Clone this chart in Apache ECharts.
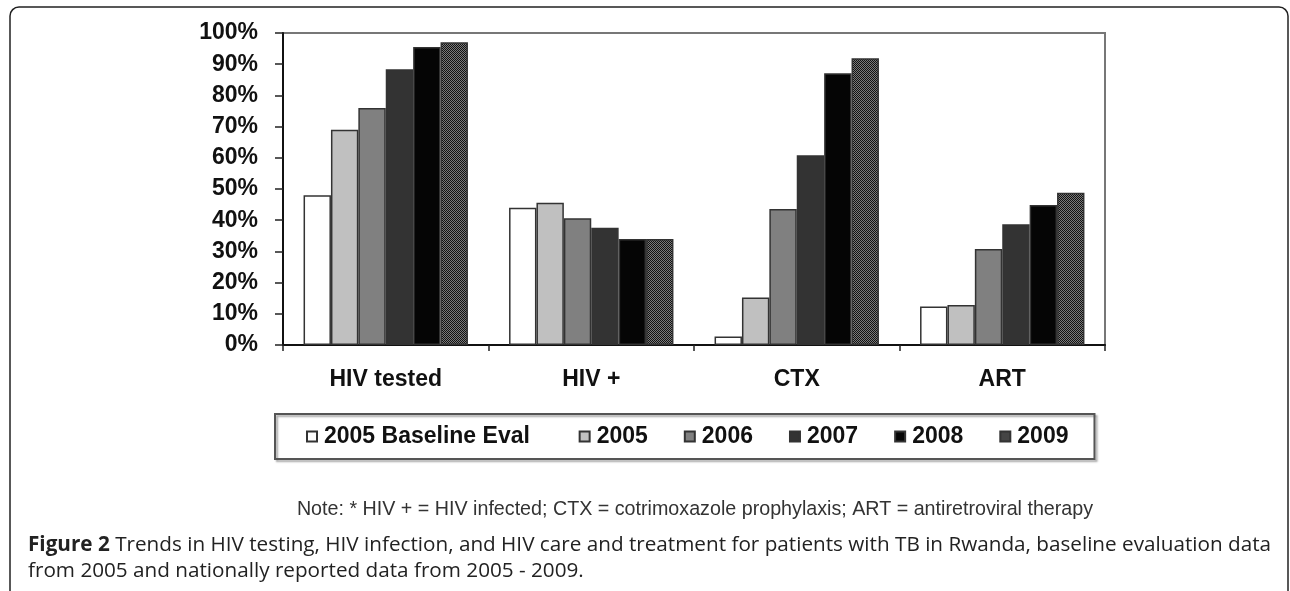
<!DOCTYPE html>
<html>
<head>
<meta charset="utf-8">
<style>
  html, body { margin: 0; padding: 0; background: #fff; }
  #chart { width: 1290px; height: 591px; }
</style>
<script src="https://cdn.jsdelivr.net/npm/echarts@6/dist/echarts.min.js"></script>
</head>
<body>
<div id="chart"></div>
<script>
    // categories and series values (percent)
    var categories = ['HIV tested', 'HIV +', 'CTX', 'ART'];
    var seriesNames = ['2005 Baseline Eval', '2005', '2006', '2007', '2008', '2009'];
    var baseline2005 = [48, 44, 2.7, 12.3];
    var data2005 = [69, 45.6, 15.2, 12.8];
    var data2006 = [76, 40.6, 43.6, 30.8];
    var data2007 = [88.4, 37.6, 60.8, 38.7];
    var data2008 = [95.5, 34, 87.1, 44.9];
    var data2009 = [97, 34, 91.9, 48.8];
    var yTicks = [0, 10, 20, 30, 40, 50, 60, 70, 80, 90, 100];

    var noteText = 'Note: * HIV + = HIV infected; CTX = cotrimoxazole prophylaxis; ART = antiretroviral therapy';
    var captionLine1 = 'Trends in HIV testing, HIV infection, and HIV care and treatment for patients with TB in Rwanda, baseline evaluation data';
    var captionLine2 = 'from 2005 and nationally reported data from 2005 - 2009';

    // dotted fill for 2009
    function dotPattern() {
        var c = document.createElement('canvas');
        c.width = 2; c.height = 2;
        var ctx = c.getContext('2d');
        ctx.fillStyle = '#7a7a7a';
        ctx.fillRect(0, 0, 2, 2);
        ctx.fillStyle = '#111';
        ctx.fillRect(0, 0, 1, 1);
        ctx.fillRect(1, 1, 1, 1);
        return c;
    }

    var fills = ['#ffffff', '#c0c0c0', '#808080', '#333333', '#050505',
        { image: dotPattern(), repeat: 'repeat' }];
    var allData = [baseline2005, data2005, data2006, data2007, data2008, data2009];

    var series = [];
    for (var i = 0; i < seriesNames.length; i++) {
        series.push({
            name: seriesNames[i],
            type: 'bar',
            barGap: '0%',
            barCategoryGap: '20%',
            data: allData[i],
            itemStyle: {
                color: fills[i],
                borderColor: '#333',
                borderWidth: 1.5
            }
        });
    }

    var chart = echarts.init(document.getElementById('chart'));
    chart.setOption({
        animation: false,
        backgroundColor: '#fff',
        textStyle: { fontFamily: 'Liberation Sans, Arial, sans-serif' },
        grid: {
            left: 283,
            right: 185,
            top: 33,
            bottom: 246,
            show: true,
            borderColor: '#777',
            borderWidth: 2
        },
        legend: {
            left: 275,
            top: 414,
            icon: 'rect',
            itemWidth: 10,
            itemHeight: 10,
            itemGap: 36,
            padding: [11, 26, 11, 31],
            borderColor: '#555',
            borderWidth: 2,
            shadowColor: 'rgba(0,0,0,0.35)',
            shadowOffsetX: 2,
            shadowOffsetY: 2,
            shadowBlur: 2,
            // the first item sits a bit wider in the original
            formatter: function (name) {
                return name === seriesNames[0] ? name + '  ' : name;
            },
            textStyle: {
                fontSize: 23,
                fontWeight: 'bold',
                color: '#111',
                padding: [0, 0, 0, 2]
            },
            data: seriesNames
        },
        xAxis: {
            type: 'category',
            data: categories,
            axisLine: { lineStyle: { color: '#111', width: 2 } },
            axisTick: { show: true, length: 6, lineStyle: { color: '#222', width: 1.5 } },
            axisLabel: {
                margin: 23,
                fontSize: 23,
                fontWeight: 'bold',
                color: '#111'
            }
        },
        yAxis: {
            type: 'value',
            min: 0,
            max: 100,
            interval: 10,
            splitLine: { show: false },
            axisLine: { show: true, lineStyle: { color: '#111', width: 2 } },
            axisTick: { show: true, length: 8, lineStyle: { color: '#222', width: 1.5 } },
            axisLabel: {
                margin: 25,
                fontSize: 23,
                fontWeight: 'bold',
                color: '#111',
                formatter: function (v) {
                    return yTicks.indexOf(v) >= 0 ? v + '%' : '';
                }
            }
        },
        graphic: [
            {
                type: 'rect',
                shape: { x: 10, y: 7, width: 1278, height: 600, r: 9 },
                style: { fill: 'none', stroke: '#222', lineWidth: 1.5 },
                silent: true,
                z: -1
            },
            {
                type: 'text',
                x: 695,
                y: 510,
                style: {
                    text: noteText,
                    fontFamily: 'Liberation Sans, Arial, sans-serif',
                    fontSize: 19.7,
                    fill: '#333',
                    align: 'center',
                    verticalAlign: 'middle'
                }
            },
            {
                type: 'text',
                x: 28,
                y: 532,
                style: {
                    text: '{b|Figure 2} ' + captionLine1 + '\n' + captionLine2 + '.',
                    fontFamily: 'Open Sans, sans-serif',
                    fontSize: 20.7,
                    lineHeight: 26,
                    fill: '#222',
                    rich: {
                        b: { fontWeight: 'bold', fontSize: 20.7, fontFamily: 'Open Sans, sans-serif', fill: '#222' }
                    }
                }
            }
        ],
        series: series
    });
</script>
</body>
</html>
